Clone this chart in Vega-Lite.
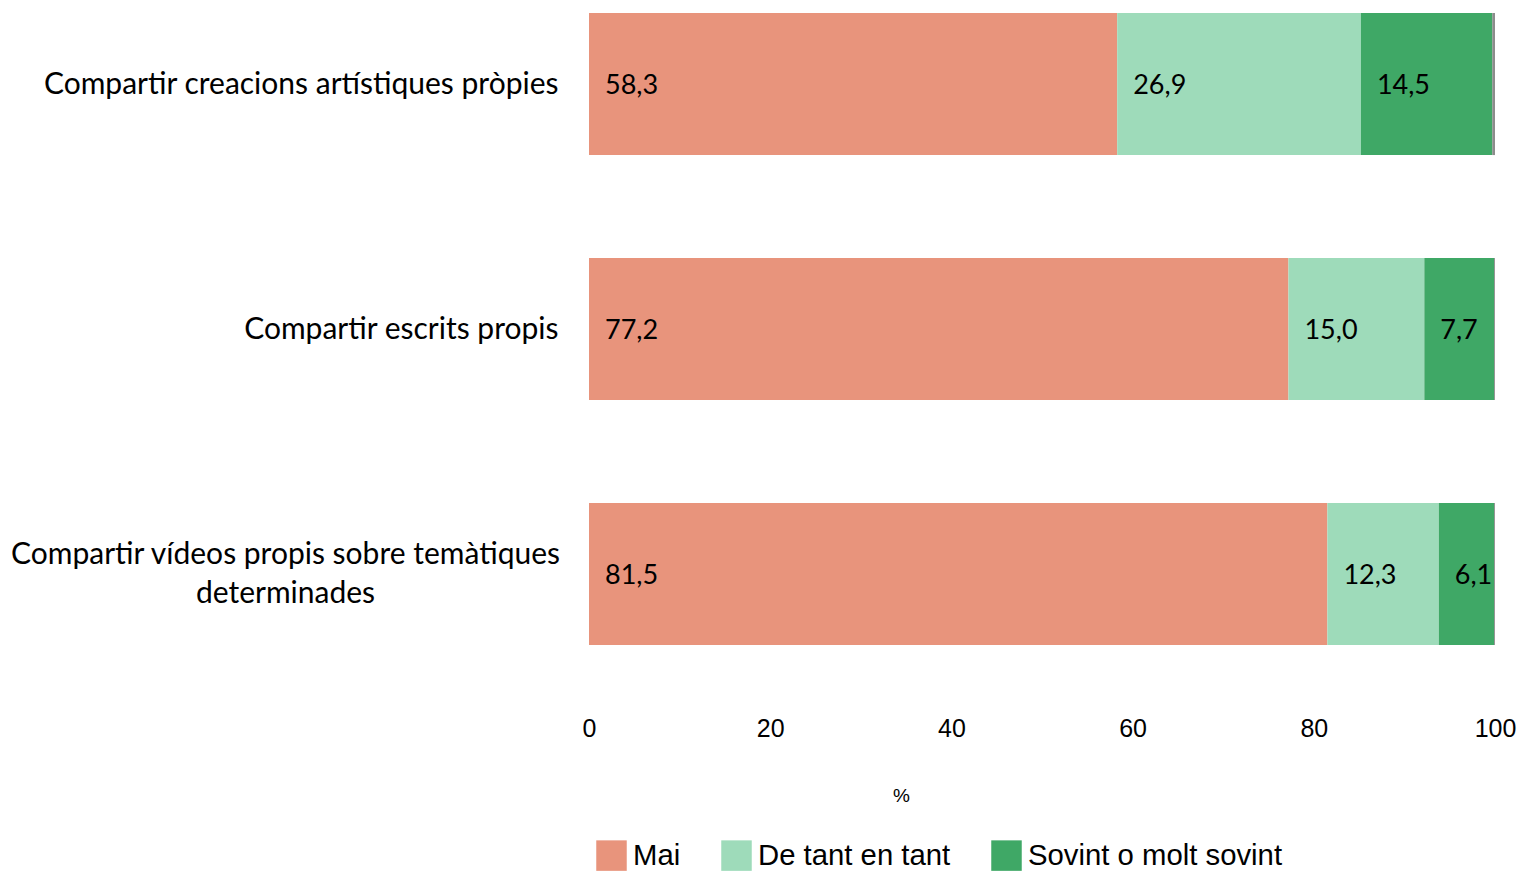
{
  "$schema": "https://vega.github.io/schema/vega-lite/v6.json",
  "autosize": {"type": "none"},
  "padding": {"left": 589, "top": 0, "right": 26, "bottom": 214},
  "width": 906,
  "height": 658,
  "background": "white",
  "config": {
    "view": {"stroke": null},
    "locale": {"number": {"decimal": ",", "thousands": ".", "grouping": [3], "currency": ["", " €"]}}
  },
  "data": {
    "values": [
      {"cat": "Compartir creacions artístiques pròpies", "resp": "Mai", "value": 58.3},
      {"cat": "Compartir creacions artístiques pròpies", "resp": "De tant en tant", "value": 26.9},
      {"cat": "Compartir creacions artístiques pròpies", "resp": "Sovint o molt sovint", "value": 14.5},
      {"cat": "Compartir creacions artístiques pròpies", "resp": "NS/NC", "value": 0.3},
      {"cat": "Compartir escrits propis", "resp": "Mai", "value": 77.2},
      {"cat": "Compartir escrits propis", "resp": "De tant en tant", "value": 15.0},
      {"cat": "Compartir escrits propis", "resp": "Sovint o molt sovint", "value": 7.7},
      {"cat": "Compartir escrits propis", "resp": "NS/NC", "value": 0.1},
      {"cat": "Compartir vídeos propis sobre temàtiques determinades", "resp": "Mai", "value": 81.5},
      {"cat": "Compartir vídeos propis sobre temàtiques determinades", "resp": "De tant en tant", "value": 12.3},
      {"cat": "Compartir vídeos propis sobre temàtiques determinades", "resp": "Sovint o molt sovint", "value": 6.1},
      {"cat": "Compartir vídeos propis sobre temàtiques determinades", "resp": "NS/NC", "value": 0.1}
    ]
  },
  "transform": [
    {"calculate": "indexof(['Mai','De tant en tant','Sovint o molt sovint','NS/NC'], datum.resp)", "as": "ord"},
    {"stack": "value", "groupby": ["cat"], "sort": [{"field": "ord", "order": "ascending"}], "as": ["x0", "x1"]}
  ],
  "encoding": {
    "y": {
      "field": "cat",
      "type": "nominal",
      "sort": ["Compartir creacions artístiques pròpies", "Compartir escrits propis", "Compartir vídeos propis sobre temàtiques determinades"],
      "scale": {"paddingInner": 0.42, "paddingOuter": 0.053},
      "axis": {
        "title": null,
        "domain": false,
        "ticks": false,
        "labelFont": "Lato",
        "labelFontSize": 30,
        "labelColor": "#000000",
        "labelLimit": 700,
        "labelLineHeight": 39,
        "labelBaseline": "middle",
        "labelExpr": "datum.value == 'Compartir vídeos propis sobre temàtiques determinades' ? ['Compartir vídeos propis sobre temàtiques', 'determinades'] : datum.value",
        "labelAlign": {"condition": {"test": "datum.value == 'Compartir vídeos propis sobre temàtiques determinades'", "value": "center"}, "value": "right"},
        "labelPadding": {"condition": {"test": "datum.value == 'Compartir vídeos propis sobre temàtiques determinades'", "value": 304}, "value": 31},
        "labelOffset": {"condition": {"test": "datum.value == 'Compartir vídeos propis sobre temàtiques determinades'", "value": -19}, "value": 1}
      }
    }
  },
  "layer": [
    {
      "mark": {"type": "bar"},
      "encoding": {
        "x": {
          "field": "x0",
          "type": "quantitative",
          "scale": {"domain": [0, 100], "nice": false},
          "axis": {
            "title": "%",
            "values": [0, 20, 40, 60, 80, 100],
            "grid": false,
            "domain": false,
            "ticks": false,
            "labelFont": "Liberation Sans",
            "labelFontSize": 25,
            "labelColor": "#000000",
            "labelPadding": 58,
            "labelFlush": false,
            "titleFont": "Liberation Sans",
            "titleFontSize": 19,
            "titleFontWeight": "normal",
            "titleColor": "#000000",
            "titleX": 312,
            "titleY": 137,
            "titleAlign": "center",
            "titleBaseline": "middle"
          }
        },
        "x2": {"field": "x1"},
        "color": {
          "field": "resp",
          "type": "nominal",
          "scale": {
            "domain": ["Mai", "De tant en tant", "Sovint o molt sovint", "NS/NC"],
            "range": ["#E8947C", "#9EDBBA", "#3FA866", "#8C8C8C"]
          },
          "legend": {
            "title": null,
            "values": ["Mai", "De tant en tant", "Sovint o molt sovint"],
            "orient": "none",
            "direction": "horizontal",
            "legendX": 7,
            "legendY": 840,
            "symbolType": "square",
            "symbolSize": 930,
            "symbolStrokeWidth": 0,
            "symbolOpacity": 1,
            "labelFont": "Liberation Sans",
            "labelFontSize": 29.3,
            "labelColor": "#000000",
            "labelOffset": 6,
            "labelLimit": 400,
            "columnPadding": 40
          }
        }
      }
    },
    {
      "transform": [{"filter": "datum.resp != 'NS/NC'"}],
      "mark": {"type": "text", "align": "left", "baseline": "middle", "dx": 16, "dy": 2, "font": "Lato", "fontSize": 27, "color": "#000000"},
      "encoding": {
        "x": {"field": "x0", "type": "quantitative"},
        "text": {"field": "value", "type": "quantitative", "format": ".1f"}
      }
    }
  ]
}
